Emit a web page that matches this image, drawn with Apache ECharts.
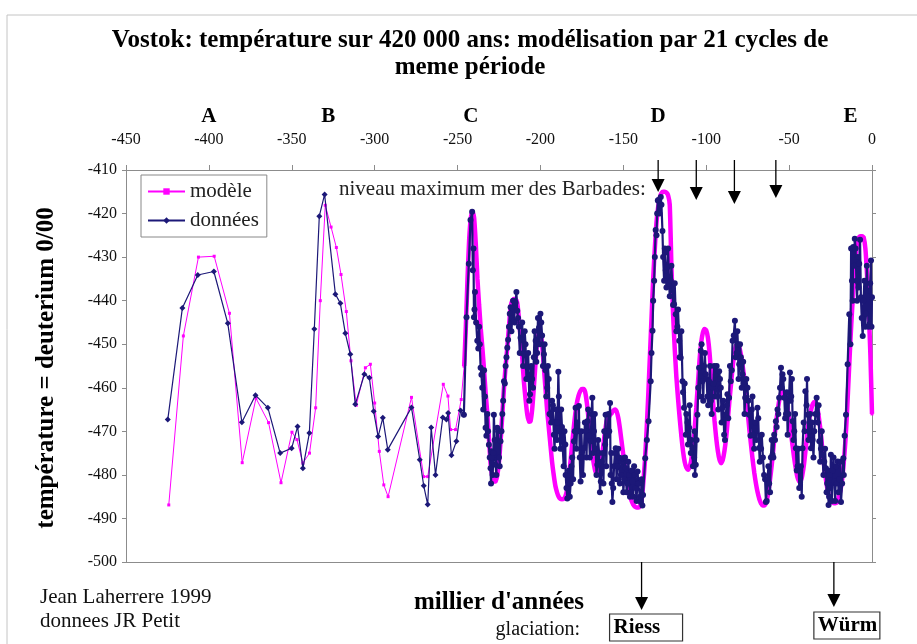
<!DOCTYPE html>
<html>
<head>
<meta charset="utf-8">
<script src="https://cdn.jsdelivr.net/npm/echarts@6/dist/echarts.min.js"></script>
<style>
html,body{margin:0;padding:0;background:#fff;}
#chart{width:917px;height:644px;}
</style>
</head>
<body>
<div id="chart"></div>
<script>
// ---- tick labels / categories ----
const xTicks = [-450,-400,-350,-300,-250,-200,-150,-100,-50,0];
const cycleLetters = ['A','B','C','D','E'];
const cycleLetterYears = [-400,-328,-242,-129,-13];
const barbadosYears = [-129,-106,-83,-58];
const glaciationNames = ['Riess','Würm'];
const glaciationYears = [-139,-23];

// ---- modèle, older sparse part ----
const modelOldYears = [-424.2,-415.4,-406.3,-396.8,-387.6,-379.9,-371.6,-364,-356.5,-349.9,-346.9,-343.3,-339.3,-335.6,-332.8,-329.8,-326.3,-323.1,-320.3,-317.1,-314.3,-311.1,-305.6,-302.6,-300,-297.2,-294.5,-291.9,-277.8,-270.4,-268,-258.6,-255.8,-254.2,-251.2,-247.8,-246];
const modelOldValues = [-486.9,-448.1,-430,-429.8,-442.9,-477.2,-462.4,-468,-481.8,-470.2,-471.9,-477.3,-475,-464.6,-440,-418.1,-423.1,-427.8,-434,-442.5,-453.8,-464,-455.4,-454.6,-463.5,-474.6,-482.3,-485,-462.2,-480.4,-480.4,-459.2,-461.9,-469.6,-469.6,-462.7,-455];

// ---- modèle, recent dense part ----
const modelYears = [-246,-245,-244,-243,-242,-241,-240,-239,-238,-237,-236,-235,-234,-233,-232,-231,-230,-229,-228,-227,-226,-225,-224,-223,-222,-221,-220,-219,-218,-217,-216,-215,-214,-213,-212,-211,-210,-209,-208,-207,-206,-205,-204,-203,-202,-201,-200,-199,-198,-197,-196,-195,-194,-193,-192,-191,-190,-189,-188,-187,-186,-185,-184,-183,-182,-181,-180,-179,-178,-177,-176,-175,-174,-173,-172,-171,-170,-169,-168,-167,-166,-165,-164,-163,-162,-161,-160,-159,-158,-157,-156,-155,-154,-153,-152,-151,-150,-149,-148,-147,-146,-145,-144,-143,-142,-141,-140,-139,-138,-137,-136,-135,-134,-133,-132,-131,-130,-129,-128,-127,-126,-125,-124,-123,-122,-121,-120,-119,-118,-117,-116,-115,-114,-113,-112,-111,-110,-109,-108,-107,-106,-105,-104,-103,-102,-101,-100,-99,-98,-97,-96,-95,-94,-93,-92,-91,-90,-89,-88,-87,-86,-85,-84,-83,-82,-81,-80,-79,-78,-77,-76,-75,-74,-73,-72,-71,-70,-69,-68,-67,-66,-65,-64,-63,-62,-61,-60,-59,-58,-57,-56,-55,-54,-53,-52,-51,-50,-49,-48,-47,-46,-45,-44,-43,-42,-41,-40,-39,-38,-37,-36,-35,-34,-33,-32,-31,-30,-29,-28,-27,-26,-25,-24,-23,-22,-21,-20,-19,-18,-17,-16,-15,-14,-13,-12,-11,-10,-9,-8,-7,-6,-5,-4,-3,-2,-1,0];
const modelValues = [-455,-446,-435,-426,-421,-419.5,-421,-427,-435,-441,-446.5,-451,-456,-461.5,-466.2,-472,-477.7,-480.5,-481.5,-481.5,-480,-477,-472,-466.2,-460,-455,-450.8,-446,-441.5,-440,-439.6,-439.6,-440.5,-444,-448.5,-453,-458.5,-462.5,-466,-467.8,-467.7,-465,-460,-454.5,-449.5,-447.5,-447.7,-450,-455,-460,-465,-469,-473,-477,-480,-482.5,-484,-485,-485.5,-485.6,-485.5,-485,-483.5,-481,-477.5,-473.5,-469.5,-466,-463.5,-461.8,-460.8,-460.3,-460.3,-461,-463.5,-467,-471,-474.5,-477,-479,-480,-479.8,-478.5,-476,-473,-470,-467.5,-467,-466.2,-465.8,-465.2,-465,-465.5,-467,-469.5,-472.5,-475.5,-478.5,-481,-483,-484.8,-486,-486.8,-487.3,-487.5,-487.5,-487.2,-486,-482,-477,-470,-462,-453,-444,-435,-428,-422,-418.5,-416.3,-415.3,-415,-415,-415.2,-415.8,-418,-432,-443,-451,-457.5,-462.5,-467,-471,-474.5,-477,-478.3,-478.8,-478.2,-476.5,-473.5,-469.5,-464.5,-459,-453.5,-449.5,-447.3,-446.5,-446.8,-448.5,-452,-457,-462.5,-467.5,-471.5,-474.5,-476.5,-477.3,-476.5,-474.5,-471.5,-467.5,-463,-459,-455,-452,-450.3,-450,-450.8,-452.5,-455,-458,-461.5,-465.5,-469.5,-473,-476.5,-479.5,-482,-484,-485.5,-486.5,-487,-487,-486.5,-485,-482.5,-479.5,-476,-472,-468.5,-465.5,-463,-461.5,-460.8,-461,-462.3,-464.5,-467,-470,-473,-476,-478.5,-480.5,-481.5,-481.5,-480,-477.5,-474,-470.5,-467.5,-465.5,-464,-463.3,-463.3,-464.5,-467,-470,-474,-477.5,-480.5,-483,-484.8,-485.8,-486.3,-486.5,-486.5,-486.3,-485,-483.5,-481,-477,-472,-465,-457,-449,-442,-436,-430.5,-427,-425.5,-425.2,-425.2,-425.5,-428,-434,-442,-452,-466];

// ---- données, older sparse part ----
const dataOldYears = [-424.8,-416,-406.7,-397,-388.6,-380.1,-371.9,-364.4,-357,-350.1,-346.5,-343.3,-339.4,-336.4,-333.4,-330.2,-323.7,-320.7,-317.7,-314.7,-311.7,-306.2,-303.2,-300.6,-297.9,-295.1,-292.1,-277.8,-272.8,-270.4,-268,-265.9,-263.3,-258.9,-256.7,-255.7,-253.7,-250.7,-248.2,-246.2];
const dataOldValues = [-467.3,-441.7,-434.1,-433.3,-445.2,-467.9,-461.7,-464.6,-475,-473.9,-468.9,-478.5,-470.4,-446.5,-420.6,-415.6,-438.5,-440.6,-447.5,-452.3,-463.8,-456.9,-457.7,-465.4,-471.2,-466.9,-474.2,-464.5,-476.5,-482.5,-486.8,-469.1,-480,-466.8,-467.3,-465.8,-475.5,-472.3,-465.2,-466.2];

// ---- données, recent dense part (main readings) ----
const dataYears = [-246.2,-244.6,-243.2,-242.2,-241.2,-240.8,-240.1,-239.5,-238.1,-237,-236.1,-235.1,-234,-233.1,-232,-231.1,-230.1,-229.5,-228.8,-228.1,-227.1,-226.1,-225,-224.1,-223,-222,-221,-220,-219,-218,-217,-216,-215,-214,-213,-212,-211,-210,-209,-207.9,-207,-206.3,-205,-204,-202.9,-202,-200.9,-200,-199,-197.9,-197,-195.9,-195,-193.9,-193,-191.9,-191,-190,-189.2,-188.5,-187.5,-186.5,-185.5,-184.8,-183.8,-182.8,-181.8,-180.8,-179.8,-178.8,-177.8,-176.8,-175.8,-174.8,-173.7,-172.7,-171.7,-170.7,-169.7,-168.7,-167.7,-166.7,-165.7,-164.6,-163.6,-162.3,-161.5,-160.7,-159.8,-159,-158,-157.3,-156.6,-155.6,-154.6,-153.6,-152.6,-151.5,-150.5,-149.5,-148.5,-147.5,-146.5,-145.5,-144.5,-143.5,-142.5,-141.4,-140.5,-139.5,-138.1,-136.8,-135.8,-134.8,-133.5,-132.4,-131.4,-130.5,-129.6,-128.8,-127.4,-126.4,-125.4,-124.9,-124.4,-123.4,-122.4,-121.4,-120.3,-119.4,-118.4,-117.4,-116.3,-115.4,-114.3,-113.4,-112.3,-111.3,-110.3,-109.3,-108.3,-107.3,-106.3,-105.3,-104.3,-103.3,-102.3,-101.3,-100.3,-99.3,-98.3,-97.2,-96.2,-95.2,-94.2,-93.2,-92.2,-91.2,-90.2,-89.2,-88.2,-87.2,-86.2,-85.2,-84.1,-82.7,-81.7,-80.9,-80.1,-79.1,-78.1,-77.3,-76.5,-75.1,-74.1,-72.5,-71.7,-70.5,-69.1,-68.1,-67.3,-66.5,-65.1,-64,-63,-62,-61,-60,-59,-58,-57,-56,-54.9,-54,-52.9,-51.9,-50.9,-49.5,-48.7,-47.9,-46.9,-45.9,-44.9,-43.9,-42.9,-41.9,-40.2,-39.5,-38.8,-37.8,-36.8,-35.8,-34.8,-33.4,-32.6,-31.8,-30.8,-29.8,-28.8,-27.8,-27,-26.2,-25.5,-24.8,-23.7,-22.7,-21.7,-20.7,-19.7,-18.7,-17.3,-16.5,-15.7,-14.7,-13.7,-12.1,-11.3,-10.4,-9.4,-8.5,-7.7,-6.7,-5.6,-4.6,-3.6,-2.6,-1.6,-0.6,0];
const dataValues = [-466.2,-443.8,-431.5,-421.5,-419.6,-433,-443.8,-438,-449.2,-446,-455.4,-460,-456,-469.2,-466,-473.1,-478.5,-474.6,-480,-466.2,-477.7,-469.2,-476,-472.3,-466,-458.5,-455,-450.8,-446,-441.5,-444,-444.6,-440.5,-442.3,-446,-448.5,-445,-452.3,-450,-455.4,-458,-461.5,-458,-453,-449.2,-452,-446.2,-443,-448,-452.3,-456,-460,-458,-466.2,-463,-470.8,-468,-472,-456.3,-470,-465,-474,-470,-480,-485.4,-479,-482,-476,-472.3,-464.6,-468,-464.2,-481.5,-476,-473.8,-470,-467.7,-471,-472.3,-462.3,-470,-474,-477.7,-475,-481.5,-475,-470,-466.2,-470,-466,-463.5,-475,-486.2,-478,-473.9,-478,-476,-480,-476.2,-481,-478.5,-482,-480,-484,-481.5,-478,-483,-479.2,-482,-486.2,-484.6,-476.2,-472,-467.7,-458.5,-446.9,-435.4,-423.8,-420,-416.9,-416.2,-424,-435.4,-429,-433,-432.3,-436,-435.4,-437.7,-440.8,-443.1,-446,-449.2,-453.1,-458.5,-464.6,-470.8,-468,-469.2,-475,-473.9,-476,-477.7,-466.2,-455.4,-451.5,-458.5,-455,-456.9,-462,-458.5,-463,-460,-455,-457,-462,-456.2,-460,-464.6,-470.8,-466.2,-461.5,-462.3,-458.5,-449.2,-444.6,-452,-450,-454.6,-453,-456.9,-459,-462.3,-460,-466.2,-465,-470.8,-468,-464.6,-473.8,-471,-470.8,-480,-486.2,-481,-482,-476,-475.4,-470.8,-467.7,-465,-462.3,-455.4,-456.9,-462.3,-466,-470.8,-456.5,-462,-467.7,-470,-473.9,-478,-483,-478,-473.9,-460.8,-464,-466.2,-470,-473.9,-472,-470,-462.3,-468,-472.3,-474,-475.4,-477,-478.5,-482,-486.9,-480,-475.4,-479,-481.5,-478,-476.9,-481,-486.2,-476.2,-471,-466.2,-454.6,-443.1,-435.4,-427.7,-425.8,-435.4,-430,-431.5,-439.2,-448.1,-435.4,-443,-437.7,-445.4,-430.8,-439.2];

// ---- données, recent dense part (extra readings across the scatter band) ----
const dataBandYears = [-240.4,-239.8,-238.8,-237.5,-236.6,-235.6,-234.5,-233.5,-232.6,-231.6,-230.6,-229.8,-229.2,-228.4,-227.6,-226.6,-225.5,-224.6,-223.5,-222.5,-221.5,-220.5,-219.5,-218.5,-217.5,-216.5,-215.5,-214.5,-213.5,-212.5,-211.5,-210.5,-209.5,-208.5,-207.4,-206.7,-205.6,-204.5,-203.5,-202.5,-201.5,-200.5,-199.5,-198.5,-197.5,-196.5,-195.5,-194.5,-193.5,-192.5,-191.5,-190.5,-189.7,-188.9,-188,-187,-186,-185,-184.3,-183.3,-182.3,-181.3,-180.3,-179.3,-178.3,-177.3,-176.3,-175.3,-174.3,-173.2,-172.2,-171.2,-170.2,-169.2,-168.2,-167.2,-166.2,-165.2,-164.1,-163,-162,-161,-160.3,-159.4,-158.5,-157.7,-157,-156.1,-155.1,-154.1,-153.1,-152.1,-151,-150,-149,-148,-147,-146,-145,-144,-143,-142,-141,-140,-139,-138.5,-133,-132,-131,-130,-129.2,-128.2,-127,-126,-125,-124,-123,-122,-121,-120,-119,-118,-117,-116,-115,-114,-113,-112,-111,-110,-109,-108,-107,-106.8,-105.8,-104.8,-103.8,-102.8,-101.8,-100.8,-99.8,-98.8,-97.7,-96.7,-95.7,-94.7,-93.7,-92.7,-91.7,-90.7,-89.7,-88.7,-87.7,-86.7,-85.7,-84.6,-83.4,-82.2,-81.2,-80.5,-79.6,-78.6,-77.7,-76.9,-75.8,-74.6,-73.3,-72.1,-71.1,-69.8,-68.6,-67.7,-66.9,-65.8,-64.5,-63.5,-62.5,-61.5,-60.5,-59.5,-58.5,-57.5,-56.5,-55.5,-54.5,-53.5,-52.4,-51.4,-50.4,-49.1,-48.3,-47.4,-46.4,-45.4,-44.4,-43.4,-42.4,-41.2,-40.7,-39.2,-38.3,-37.3,-36.3,-35.3,-34.1,-33,-32.2,-31.3,-30.3,-29.3,-28.3,-27.4,-26.6,-25.9,-25.2,-24.2,-23.2,-22.2,-21.2,-20.2,-19.2,-18,-17,-13,-12.6,-11.7,-10.8,-9.9,-9,-8.1,-7.2,-6.2,-5.1,-4.1,-3.1,-2.1,-1.1,-0.3];
const dataBandValues = [-428,-442,-445,-451,-450,-457,-465,-462,-471,-470,-476,-482,-476,-475,-472,-480,-470,-478,-470,-463,-459,-453,-449,-443,-447,-440,-445,-438,-444,-452,-449,-455,-447,-458,-452,-463,-455,-460,-447,-454,-444,-450,-445,-455,-450,-462,-455,-466,-468,-464,-474,-465,-468,-462,-474,-469,-478,-473,-483,-480,-485,-478,-481,-470,-474,-470,-476,-470,-480,-468,-476,-465,-476,-466,-475,-466,-480,-472,-484,-477,-482,-473,-478,-471,-470,-480,-482,-483,-475,-481,-474,-482,-477,-484,-476,-484,-477,-485,-479,-485,-480,-486,-482,-485,-481,-487,-452,-440,-430,-425,-417,-420,-418,-430,-428,-437,-428,-439,-432,-441,-436,-447,-442,-453,-447,-461,-459,-466,-473,-464,-472,-478,-470,-480,-472,-460,-462,-450,-463,-452,-458,-464,-455,-466,-459,-462,-455,-465,-458,-468,-463,-472,-464,-467,-455,-456,-448,-453,-447,-458,-450,-460,-454,-466,-458,-463,-471,-462,-474,-472,-467,-477,-474,-476,-481,-486,-478,-484,-472,-476,-472,-469,-466,-460,-460,-458,-467,-461,-466,-463,-458,-472,-466,-479,-474,-479,-485,-468,-470,-458,-472,-466,-468,-476,-466,-466,-464,-477,-470,-480,-474,-484,-479,-485,-483,-486,-476,-486,-482,-484,-477,-482,-480,-450,-428,-440,-432,-428,-440,-437,-426,-444,-440,-446,-432,-446,-436,-446];

const zip = (xs, ys) => xs.map((x, i) => [x, ys[i]]);
const recentData = zip(dataYears, dataValues).concat(zip(dataBandYears, dataBandValues)).sort((a, b) => a[0] - b[0]);

const SERIF = '"Liberation Serif","Times New Roman",serif';
const MAGENTA = '#ff00ff';
const NAVY = '#1c1878';
const AXIS = '#8c8c8c';

const chart = echarts.init(document.getElementById('chart'), null, {renderer: 'canvas'});

// ---- grid geometry (for annotation placement) ----
const G = {left: 126, right: 872, top: 170, bottom: 562};
const px = yr => G.left + (yr + 450) / 450 * (G.right - G.left);

function arrowDown(x, y1, tipY) {
  return [
    {type: 'line', z: 100, shape: {x1: x, y1: y1, x2: x, y2: tipY - 10}, style: {stroke: '#000', lineWidth: 1.3}},
    {type: 'polygon', z: 100, shape: {points: [[x - 6.5, tipY - 13], [x + 6.5, tipY - 13], [x, tipY]]}, style: {fill: '#000'}}
  ];
}

const graphics = [
  {type: 'line', shape: {x1: 7, y1: 15, x2: 917, y2: 15}, style: {stroke: '#c4c4c4', lineWidth: 1}},
  {type: 'line', shape: {x1: 7, y1: 15, x2: 7, y2: 644}, style: {stroke: '#c4c4c4', lineWidth: 1}},
  {type: 'text', x: 470, y: 41, style: {text: 'Vostok: température sur 420 000 ans: modélisation par 21 cycles de', fontFamily: SERIF, fontSize: 25, fontWeight: 'bold', fill: '#000', align: 'center', verticalAlign: 'middle'}},
  {type: 'text', x: 470, y: 68, style: {text: 'meme période', fontFamily: SERIF, fontSize: 25, fontWeight: 'bold', fill: '#000', align: 'center', verticalAlign: 'middle'}},
  {type: 'text', x: 47, y: 368, rotation: Math.PI / 2, style: {text: 'température = deuterium 0/00', fontFamily: SERIF, fontSize: 25, fontWeight: 'bold', fill: '#000', align: 'center', verticalAlign: 'middle'}},
  {type: 'text', x: 339, y: 189, z: 50, style: {text: 'niveau maximum mer des Barbades:', fontFamily: SERIF, fontSize: 21, fill: '#222', align: 'left', verticalAlign: 'middle'}},
  {type: 'text', x: 40, y: 597, style: {text: 'Jean Laherrere 1999', fontFamily: SERIF, fontSize: 21, fill: '#111', align: 'left', verticalAlign: 'middle'}},
  {type: 'text', x: 40, y: 621, style: {text: 'donnees JR Petit', fontFamily: SERIF, fontSize: 21, fill: '#111', align: 'left', verticalAlign: 'middle'}},
  {type: 'text', x: 499, y: 603, style: {text: "millier d'années", fontFamily: SERIF, fontSize: 25, fontWeight: 'bold', fill: '#000', align: 'center', verticalAlign: 'middle'}},
  {type: 'text', x: 580, y: 630, style: {text: 'glaciation:', fontFamily: SERIF, fontSize: 20, fill: '#111', align: 'right', verticalAlign: 'middle'}}
];

cycleLetters.forEach((t, i) => {
  graphics.push({type: 'text', x: px(cycleLetterYears[i]), y: 117, style: {text: t, fontFamily: SERIF, fontSize: 21, fontWeight: 'bold', fill: '#000', align: 'center', verticalAlign: 'middle'}});
});
const topTips = [192, 200, 204, 198];
barbadosYears.forEach((yr, i) => { graphics.push(...arrowDown(px(yr), 160, topTips[i])); });

const boxW = [73, 66];
const boxTop = [614, 612];
const bottomTips = [610, 607];
glaciationYears.forEach((yr, i) => {
  const x = px(yr);
  graphics.push(...arrowDown(x, G.bottom, bottomTips[i]));
  const bx = i === 0 ? x - 32 : x - 20;
  graphics.push({type: 'rect', shape: {x: bx, y: boxTop[i], width: boxW[i], height: 27}, style: {fill: '#fff', stroke: '#333', lineWidth: 1.2}});
  graphics.push({type: 'text', x: bx + 4, y: boxTop[i] + 14, style: {text: glaciationNames[i], fontFamily: SERIF, fontSize: 21, fontWeight: 'bold', fill: '#000', align: 'left', verticalAlign: 'middle'}});
});

const option = {
  backgroundColor: '#fff',
  animation: false,
  grid: {left: G.left, right: 917 - G.right, top: G.top, bottom: 644 - G.bottom, containLabel: false},
  legend: {
    data: ['modèle', 'données'], orient: 'vertical', left: 141, top: 175,
    padding: [6, 8, 6, 6], itemGap: 8, itemWidth: 37, itemHeight: 8,
    borderColor: '#888', borderWidth: 1, backgroundColor: '#fff',
    textStyle: {fontFamily: SERIF, fontSize: 21, color: '#222'}
  },
  xAxis: [
    {type: 'value', position: 'top', min: -450, max: 0, interval: 50,
     axisLine: {show: true, onZero: false, lineStyle: {color: AXIS, width: 1}},
     axisTick: {show: true, inside: false, length: 5, lineStyle: {color: AXIS}},
     axisLabel: {show: true, margin: 22, fontFamily: SERIF, fontSize: 16, color: '#111',
       customValues: xTicks},
     splitLine: {show: false}},
    {type: 'value', position: 'bottom', min: -450, max: 0, interval: 50,
     axisLine: {show: true, onZero: false, lineStyle: {color: AXIS, width: 1}},
     axisTick: {show: false}, axisLabel: {show: false}, splitLine: {show: false}}
  ],
  yAxis: [
    {type: 'value', position: 'left', min: -500, max: -410, interval: 10,
     axisLine: {show: true, onZero: false, lineStyle: {color: AXIS, width: 1}},
     axisTick: {show: true, inside: false, length: 4, lineStyle: {color: AXIS}},
     axisLabel: {margin: 9, fontFamily: SERIF, fontSize: 16, color: '#111'},
     splitLine: {show: false}},
    {type: 'value', position: 'right', min: -500, max: -410, interval: 10,
     axisLine: {show: true, onZero: false, lineStyle: {color: AXIS, width: 1}},
     axisTick: {show: true, inside: false, length: 4, lineStyle: {color: AXIS}},
     axisLabel: {show: false}, splitLine: {show: false}}
  ],
  series: [
    {name: 'modèle', type: 'line', data: zip(modelOldYears, modelOldValues),
     symbol: 'rect', symbolSize: 3, showSymbol: true,
     lineStyle: {color: MAGENTA, width: 1}, itemStyle: {color: MAGENTA}, z: 2},
    {name: 'modèle', type: 'line', data: zip(modelYears, modelValues),
     symbol: 'rect', symbolSize: 3, showSymbol: true, smooth: 0.2,
     lineStyle: {color: MAGENTA, width: 4.5}, itemStyle: {color: MAGENTA}, z: 2},
    {name: 'données', type: 'line', data: zip(dataOldYears, dataOldValues),
     symbol: 'diamond', symbolSize: 6, showSymbol: true,
     lineStyle: {color: NAVY, width: 1.2}, itemStyle: {color: NAVY}, z: 3},
    {name: 'données', type: 'line', data: recentData,
     symbol: 'circle', symbolSize: 6, showSymbol: true,
     lineStyle: {color: NAVY, width: 2.2}, itemStyle: {color: NAVY}, z: 3}
  ],
  graphic: graphics
};
chart.setOption(option);
</script>
</body>
</html>
